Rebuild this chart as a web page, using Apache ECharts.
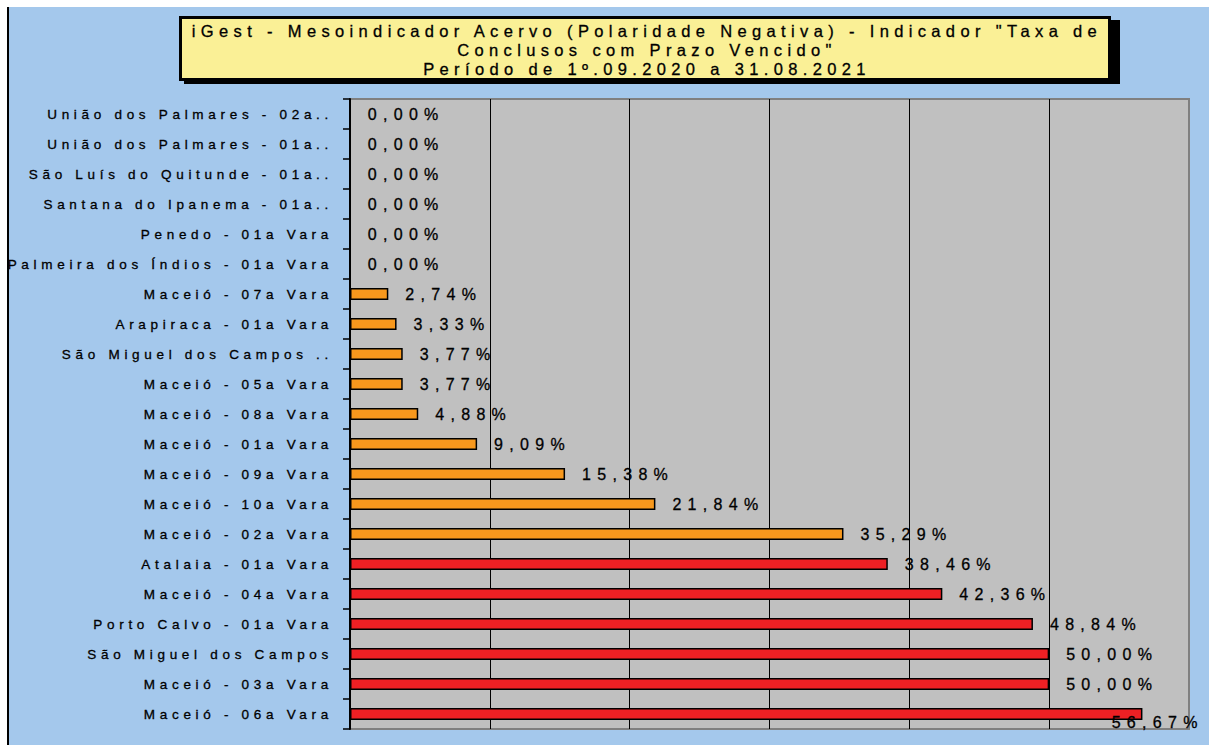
<!DOCTYPE html>
<html>
<head>
<meta charset="utf-8">
<script src="https://cdn.jsdelivr.net/npm/echarts@6/dist/echarts.min.js"></script>
<style>
  html, body { margin: 0; padding: 0; background: #ffffff; }
  #bg { position: absolute; left: 7px; top: 7px; width: 1201px; height: 738px; background: #A4C8EC; border-left: 2px solid #000; }
  #c { position: absolute; left: 0; top: 0; width: 1209px; height: 745px; }
  #c text { letter-spacing: 4.7px; }
  #c text[style*="Arial"] { letter-spacing: 6.3px; }
  #c text[style*="Helvetica"] { letter-spacing: 5.35px; }
</style>
</head>
<body>
<div id="bg"></div>
<div id="c"></div>
<script>
// ---- data (top to bottom) ----
const categories = [
  'União dos Palmares - 02a..',
  'União dos Palmares - 01a..',
  'São Luís do Quitunde - 01a..',
  'Santana do Ipanema - 01a..',
  'Penedo - 01a Vara',
  'Palmeira dos Índios - 01a Vara',
  'Maceió - 07a Vara',
  'Arapiraca - 01a Vara',
  'São Miguel dos Campos ..',
  'Maceió - 05a Vara',
  'Maceió - 08a Vara',
  'Maceió - 01a Vara',
  'Maceió - 09a Vara',
  'Maceió - 10a Vara',
  'Maceió - 02a Vara',
  'Atalaia - 01a Vara',
  'Maceió - 04a Vara',
  'Porto Calvo - 01a Vara',
  'São Miguel dos Campos',
  'Maceió - 03a Vara',
  'Maceió - 06a Vara'
];
const values = [0, 0, 0, 0, 0, 0, 2.74, 3.33, 3.77, 3.77, 4.88, 9.09, 15.38, 21.84, 35.29, 38.46, 42.36, 48.84, 50.00, 50.00, 56.67];
const redThreshold = 36;
const titleLines = [
  'iGest - Mesoindicador Acervo (Polaridade Negativa) - Indicador "Taxa de',
  'Conclusos com Prazo Vencido"',
  'Período de 1º.09.2020 a 31.08.2021'
];

const VALUE_SPACING = 6.3;
const chart = echarts.init(document.getElementById('c'), null, { renderer: 'svg' });

chart.setOption({
  backgroundColor: 'transparent',
  animation: false,
  graphic: [
    { type: 'rect', shape: { x: 184, y: 20, width: 936, height: 64 }, style: { fill: '#000' }, z: 100 },
    { type: 'rect', shape: { x: 180.5, y: 17.5, width: 929, height: 62 }, style: { fill: '#FAF096', stroke: '#000', lineWidth: 3 }, z: 101 },
    {
      type: 'text', x: 647, y: 21, z: 102,
      style: {
        text: titleLines.join('\n'),
        fontFamily: 'Helvetica, "Liberation Sans", sans-serif',
        fontSize: 16.5,
        lineHeight: 19,
        fill: '#000',
        stroke: '#000',
        lineWidth: 0.3,
        textAlign: 'center',
        textVerticalAlign: 'top'
      }
    }
  ],
  grid: {
    left: 350, top: 99, width: 839, height: 630,
    show: true, backgroundColor: '#C0C0C0', borderColor: '#808080', borderWidth: 2,
    containLabel: false
  },
  xAxis: {
    type: 'value', min: 0, max: 60, interval: 10,
    axisLabel: { show: false }, axisLine: { show: false }, axisTick: { show: false },
    splitLine: { show: true, showMinLine: false, showMaxLine: false, lineStyle: { color: '#000', width: 1 } }
  },
  yAxis: {
    type: 'category', inverse: true, data: categories,
    axisLine: { show: true, lineStyle: { color: '#000', width: 2 } },
    axisTick: { show: true, length: 7, lineStyle: { color: '#000', width: 1.5 } },
    axisLabel: {
      color: '#000', fontSize: 13.5, fontFamily: '"Liberation Sans", sans-serif', margin: 17,
      textBorderColor: '#000', textBorderWidth: 0.3
    },
    splitLine: { show: false }
  },
  series: [{
    type: 'bar',
    data: values,
    barWidth: 12,
    itemStyle: {
      color: p => (p.value > redThreshold ? '#EE2024' : '#F7981D'),
      borderColor: '#000', borderWidth: 1.5
    },
    label: {
      show: true, position: 'right', distance: 17,
      color: '#000', fontSize: 16, fontFamily: 'Arial, "Liberation Sans", sans-serif',
      textBorderColor: '#000', textBorderWidth: 0.3,
      formatter: p => p.value.toFixed(2).replace('.', ',') + '%'
    },
    labelLayout: p => {
      const w = p.labelRect.width + VALUE_SPACING * (p.text ? p.text.length : 6);
      const limit = 1204;
      if (p.labelRect.x + w > limit) return { x: limit - w };
      return {};
    }
  }]
});
</script>
</body>
</html>
